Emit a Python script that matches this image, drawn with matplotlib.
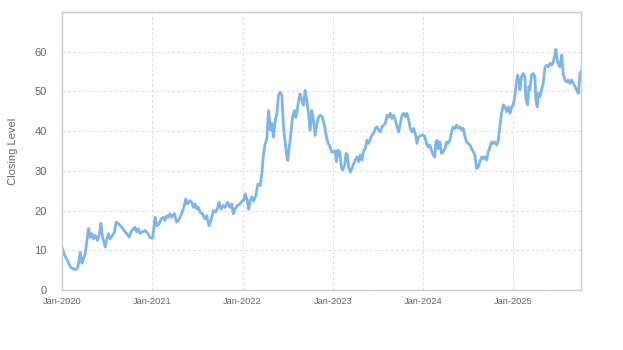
import numpy as np
import pandas as pd
import matplotlib
matplotlib.use("Agg")
import matplotlib.pyplot as plt
import matplotlib.dates as mdates

plt.rcParams['font.family'] = ['Liberation Sans', 'DejaVu Sans']

# closing levels, position given as fractional year
year_pos = [
    2020.000, 2020.029, 2020.055, 2020.092, 2020.129, 2020.154, 2020.176, 2020.202, 2020.221, 2020.239,
    2020.257, 2020.276, 2020.294, 2020.313, 2020.331, 2020.349, 2020.368, 2020.393, 2020.415, 2020.430,
    2020.449, 2020.478, 2020.496, 2020.515, 2020.533, 2020.559, 2020.581, 2020.599, 2020.625, 2020.662,
    2020.699, 2020.717, 2020.743, 2020.772, 2020.809, 2020.827, 2020.846, 2020.864, 2020.890, 2020.919,
    2020.949, 2020.974, 2021.000,
    2021.011, 2021.030, 2021.048, 2021.074, 2021.096, 2021.122, 2021.140, 2021.159, 2021.177, 2021.196,
    2021.214, 2021.244, 2021.270, 2021.288, 2021.325, 2021.355, 2021.370, 2021.392, 2021.418, 2021.436,
    2021.455, 2021.473, 2021.491, 2021.510, 2021.528, 2021.554, 2021.584, 2021.602, 2021.628, 2021.650,
    2021.676, 2021.702, 2021.724, 2021.739, 2021.761, 2021.787, 2021.806, 2021.835, 2021.861, 2021.880,
    2021.898, 2021.916, 2021.946, 2021.972, 2021.998,
    2022.011, 2022.030, 2022.048, 2022.067, 2022.085, 2022.103, 2022.122, 2022.148, 2022.170, 2022.196,
    2022.214, 2022.233, 2022.251, 2022.270, 2022.288, 2022.299, 2022.310, 2022.325, 2022.344, 2022.362,
    2022.381, 2022.399, 2022.418, 2022.436, 2022.455, 2022.473, 2022.491, 2022.503, 2022.517, 2022.528,
    2022.554, 2022.576, 2022.591, 2022.602, 2022.621, 2022.639, 2022.658, 2022.676, 2022.695, 2022.713,
    2022.732, 2022.750, 2022.769, 2022.787, 2022.806, 2022.824, 2022.843, 2022.861, 2022.887, 2022.909,
    2022.935, 2022.953, 2022.972, 2022.990,
    2023.030, 2023.041, 2023.059, 2023.078, 2023.096, 2023.111, 2023.133, 2023.148, 2023.163, 2023.177,
    2023.196, 2023.214, 2023.233, 2023.251, 2023.270, 2023.288, 2023.307, 2023.325, 2023.344, 2023.362,
    2023.381, 2023.399, 2023.418, 2023.436, 2023.455, 2023.473, 2023.491, 2023.510, 2023.528, 2023.547,
    2023.565, 2023.584, 2023.602, 2023.621, 2023.639, 2023.658, 2023.676, 2023.695, 2023.713, 2023.732,
    2023.750, 2023.769, 2023.787, 2023.806, 2023.824, 2023.843, 2023.861, 2023.880, 2023.898, 2023.916,
    2023.935, 2023.953, 2023.990,
    2024.004, 2024.022, 2024.041, 2024.059, 2024.078, 2024.096, 2024.115, 2024.133, 2024.144, 2024.159,
    2024.170, 2024.188, 2024.207, 2024.225, 2024.244, 2024.262, 2024.281, 2024.299, 2024.318, 2024.336,
    2024.355, 2024.373, 2024.392, 2024.410, 2024.429, 2024.447, 2024.466, 2024.484, 2024.503, 2024.521,
    2024.540, 2024.558, 2024.576, 2024.595, 2024.614, 2024.632, 2024.650, 2024.669, 2024.687, 2024.706,
    2024.724, 2024.743, 2024.761, 2024.780, 2024.798, 2024.817, 2024.835, 2024.854, 2024.872, 2024.891,
    2024.909, 2024.928, 2024.946, 2024.965, 2024.983,
    2025.000, 2025.018, 2025.037, 2025.048, 2025.063, 2025.074, 2025.092, 2025.111, 2025.129, 2025.140,
    2025.159, 2025.174, 2025.185, 2025.203, 2025.222, 2025.240, 2025.251, 2025.266, 2025.277, 2025.296,
    2025.314, 2025.333, 2025.353, 2025.371, 2025.389, 2025.408, 2025.427, 2025.445, 2025.463, 2025.474,
    2025.489, 2025.500, 2025.519, 2025.538, 2025.555, 2025.574, 2025.593, 2025.611, 2025.630, 2025.649,
    2025.666, 2025.685, 2025.704, 2025.722, 2025.741, 2025.752,
]

closing = [
    10.7, 8.75, 7.7, 5.8, 5.25, 5.2, 5.8, 9.5, 6.7, 7.9,
    9.2, 12.5, 15.5, 13.3, 14.2, 12.9, 13.75, 12.5, 14.2, 16.8,
    13.3, 10.8, 12.9, 14.2, 12.9, 13.75, 14.6, 17.1, 16.7, 15.8,
    14.6, 14.2, 13.3, 15.0, 15.8, 14.6, 15.4, 14.2, 14.6, 15.0,
    14.2, 13.2, 13.0,
    14.5, 18.3, 16.2, 16.6, 17.9, 18.3, 17.5, 18.7, 18.3, 19.2,
    18.3, 19.2, 17.1, 17.5, 19.2, 21.3, 22.9, 21.7, 22.5, 22.1,
    20.8, 21.7, 20.4, 20.8, 19.6, 19.2, 17.9, 18.7, 16.2, 17.5,
    20.0, 19.6, 20.8, 22.1, 20.4, 21.3, 20.8, 22.1, 20.8, 21.7,
    19.2, 20.4, 21.3, 21.7, 22.5,
    22.5, 24.2, 22.9, 20.3, 22.5, 23.4, 22.4, 23.8, 26.7, 26.3,
    29.2, 34.3, 36.8, 38.1, 45.2, 42.7, 40.2, 41.9, 38.5, 42.7,
    44.4, 49.0, 49.8, 49.0, 41.0, 37.2, 33.4, 32.6, 36.0, 37.6,
    43.5, 45.2, 43.5, 44.4, 47.7, 49.4, 47.7, 46.5, 50.3, 47.7,
    44.4, 40.2, 45.2, 42.7, 38.9, 41.8, 43.5, 44.0, 43.5, 41.4,
    38.1, 36.8, 36.0, 34.7,
    35.0, 32.3, 35.2, 34.8, 31.0, 30.2, 31.4, 34.4, 34.0, 31.0,
    29.7, 30.6, 31.8, 32.7, 33.5, 32.3, 34.0, 32.7, 35.2, 35.6,
    37.7, 36.9, 38.1, 39.0, 39.4, 40.7, 41.1, 40.3, 39.8, 41.1,
    41.5, 41.9, 44.0, 43.6, 44.5, 43.2, 44.0, 42.8, 41.1, 39.8,
    41.9, 44.0, 44.5, 43.6, 44.5, 42.8, 40.7, 39.8, 40.7, 39.4,
    36.9, 38.6, 39.0,
    39.0, 38.6, 36.9, 36.0, 36.5, 35.2, 34.0, 33.5, 37.3, 37.7,
    35.6, 37.3, 34.4, 34.8, 35.6, 37.3, 36.9, 37.7, 39.8, 41.1,
    40.7, 41.5, 40.7, 41.1, 40.3, 40.7, 38.6, 37.3, 36.9, 36.5,
    35.6, 34.8, 34.0, 30.6, 31.0, 32.3, 33.5, 33.1, 33.5, 32.7,
    34.8, 36.0, 37.3, 36.9, 37.3, 36.5, 37.7, 41.5, 44.5, 46.6,
    46.1, 44.9, 46.1, 44.5, 46.1,
    46.6, 48.7, 52.4, 54.1, 52.9, 50.4, 53.7, 54.5, 53.7, 48.2,
    46.6, 51.2, 50.4, 54.1, 54.5, 53.7, 47.8, 46.1, 49.5, 48.7,
    50.4, 52.0, 56.2, 56.6, 56.2, 57.1, 56.6, 57.5, 59.2, 60.6,
    57.9, 57.0, 56.2, 59.2, 54.5, 52.9, 52.4, 52.9, 52.0, 52.9,
    52.0, 51.2, 50.4, 49.5, 54.5, 55.0,
]

y_ticks = [0, 10, 20, 30, 40, 50, 60]
x_tick_years = [2020, 2021, 2022, 2023, 2024, 2025]


def to_date(pos):
    year = int(pos)
    start = pd.Timestamp(year=year, month=1, day=1)
    days = (pd.Timestamp(year=year + 1, month=1, day=1) - start).days
    return start + pd.Timedelta(days=(pos - year) * days)


dates = [to_date(p) for p in year_pos]

fig = plt.figure(figsize=(6.23, 3.5), dpi=100)
ax = fig.add_axes([62 / 623, 60 / 350, 519 / 623, 278 / 350])

ax.plot(dates, closing, color='#7cb5ec', linewidth=2.0, solid_joinstyle='round')

ax.set_xlim(pd.Timestamp('2020-01-01'), to_date(2025.752))
ax.set_ylim(0, 70)
ax.set_yticks(y_ticks)
ax.set_xticks([pd.Timestamp(year=y, month=1, day=1) for y in x_tick_years])
ax.xaxis.set_major_formatter(mdates.DateFormatter('%b-%Y'))

ax.grid(True, color='#e2e2e2', linestyle=(0, (3, 2)), linewidth=0.75)
ax.set_axisbelow(True)
for side in ['top', 'right', 'left', 'bottom']:
    ax.spines[side].set_color('#cccccc')
    ax.spines[side].set_linewidth(1)

ax.tick_params(axis='y', length=0, pad=11, labelsize=8, labelcolor='#666666')
ax.tick_params(axis='x', length=0, pad=5, labelsize=6.7, labelcolor='#666666')
ax.set_ylabel('Closing Level', fontsize=8, color='#666666', labelpad=12)

fig.savefig('out.png', dpi=100)
